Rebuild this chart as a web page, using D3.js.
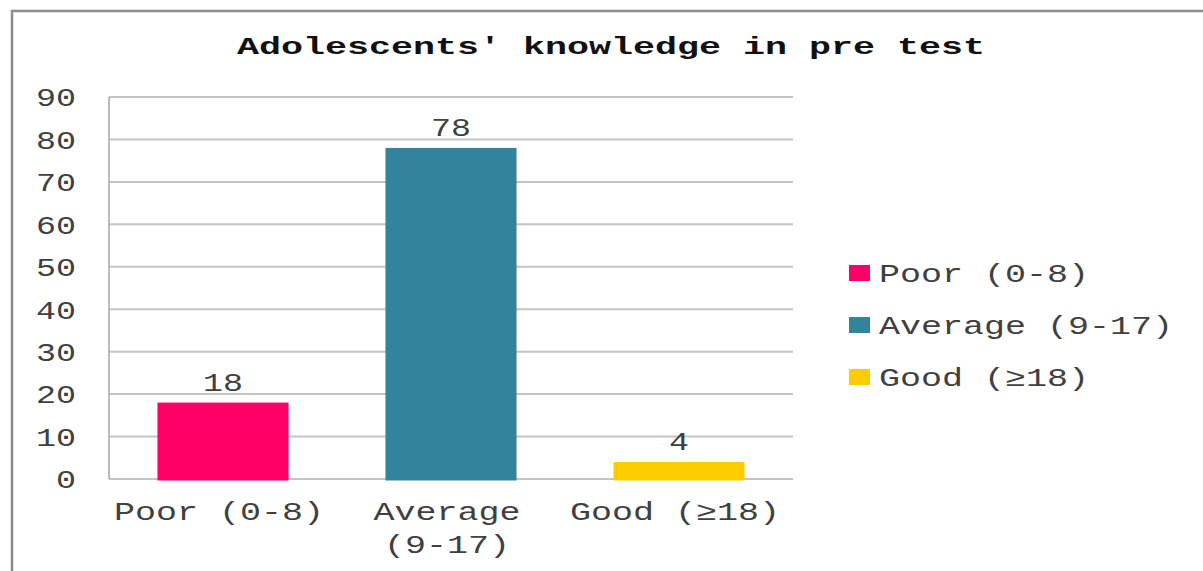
<!DOCTYPE html>
<html>
<head>
<meta charset="utf-8">
<script src="https://cdn.jsdelivr.net/npm/d3@7"></script>
<style>
  html, body { margin: 0; padding: 0; background: #fff; }
  svg { display: block; }
</style>
</head>
<body>
<svg id="chart" width="1203" height="571"></svg>
<script>
// Knowledge categories and the number of adolescents in each (pre test)
const categories = ["Poor (0-8)", "Average (9-17)", "Good (\u226518)"];
const values = [18, 78, 4];
const colors = ["#FF0066", "#31849B", "#FFCC00"];
const yTicks = [0, 10, 20, 30, 40, 50, 60, 70, 80, 90];
const title = "Adolescents' knowledge in pre test";

const svg = d3.select("#chart");
const W = 1203, H = 571;
const FONT = "'Liberation Mono', 'Courier New', monospace";
const CHAR_W = 21;      // wide monospaced glyph advance
const TEXT_COLOR = "#404040";

// Stretched monospaced text helper
function wideText(sel, str, charW) {
  sel.text(str)
    .attr("textLength", str.length * charW)
    .attr("lengthAdjust", "spacingAndGlyphs");
  return sel;
}

// Outer frame (runs past the right and bottom edges)
svg.append("rect")
  .attr("x", 12).attr("y", 11)
  .attr("width", W + 20).attr("height", H + 20)
  .attr("fill", "#fff")
  .attr("stroke", "#8c8c8c")
  .attr("stroke-width", 2.5);

// Title
wideText(svg.append("text")
  .attr("x", 611).attr("y", 54)
  .attr("text-anchor", "middle")
  .attr("font-family", FONT)
  .attr("font-weight", "bold")
  .attr("font-size", 24)
  .attr("fill", "#111"), title, 22);

// Plot area
const plot = { left: 109, right: 793, top: 97, bottom: 479 };

const x = d3.scaleBand()
  .domain(categories)
  .range([plot.left, plot.right])
  .padding(0);

const y = d3.scaleLinear()
  .domain([0, 90])
  .range([plot.bottom, plot.top]);

const g = svg.append("g");

// Horizontal gridlines
g.selectAll("line.grid")
  .data(yTicks)
  .join("line")
  .attr("class", "grid")
  .attr("x1", plot.left).attr("x2", plot.right)
  .attr("y1", d => y(d)).attr("y2", d => y(d))
  .attr("stroke", "#c4c4c4")
  .attr("stroke-width", 2);

// Y axis line
g.append("line")
  .attr("x1", plot.left).attr("x2", plot.left)
  .attr("y1", plot.top).attr("y2", plot.bottom)
  .attr("stroke", "#a6a6a6")
  .attr("stroke-width", 1.5);

// Y tick labels
g.selectAll("text.ytick")
  .data(yTicks)
  .join("text")
  .attr("class", "ytick")
  .attr("x", 76)
  .attr("y", d => y(d))
  .attr("dy", "0.36em")
  .attr("text-anchor", "end")
  .attr("font-family", FONT)
  .attr("font-size", 26)
  .attr("fill", TEXT_COLOR)
  .each(function(d) { wideText(d3.select(this), String(d), 20); });

// Bars
const barFrac = 0.575;
const barW = x.bandwidth() * barFrac;
g.selectAll("rect.bar")
  .data(values)
  .join("rect")
  .attr("class", "bar")
  .attr("x", (d, i) => x(categories[i]) + (x.bandwidth() - barW) / 2)
  .attr("y", d => y(d))
  .attr("width", barW)
  .attr("height", d => y(0) - y(d) + 1.5)
  .attr("fill", (d, i) => colors[i]);

// Value labels above bars
g.selectAll("text.val")
  .data(values)
  .join("text")
  .attr("class", "val")
  .attr("x", (d, i) => x(categories[i]) + x.bandwidth() / 2)
  .attr("y", d => y(d) - 12)
  .attr("text-anchor", "middle")
  .attr("font-family", FONT)
  .attr("font-size", 26)
  .attr("fill", TEXT_COLOR)
  .each(function(d) { wideText(d3.select(this), String(d), 20); });

// Category labels, wrapped onto two lines when wider than the band
categories.forEach((c, i) => {
  const cx = x(c) + x.bandwidth() / 2 - 4;
  const lines = c.length * CHAR_W > x.bandwidth() ? c.split(" ") : [c];
  lines.forEach((ln, k) => {
    wideText(g.append("text")
      .attr("x", cx)
      .attr("y", 520 + k * 33)
      .attr("text-anchor", "middle")
      .attr("font-family", FONT)
      .attr("font-size", 26)
      .attr("fill", TEXT_COLOR), ln, CHAR_W);
  });
});

// Legend
const legend = svg.append("g").attr("transform", "translate(849, 273)");
categories.forEach((c, i) => {
  const row = legend.append("g").attr("transform", `translate(0, ${i * 52})`);
  row.append("rect")
    .attr("x", 0).attr("y", -8)
    .attr("width", 21).attr("height", 16)
    .attr("fill", colors[i]);
  wideText(row.append("text")
    .attr("x", 30).attr("y", 0)
    .attr("dy", "0.36em")
    .attr("font-family", FONT)
    .attr("font-size", 26)
    .attr("fill", TEXT_COLOR), c, CHAR_W);
});
</script>
</body>
</html>
